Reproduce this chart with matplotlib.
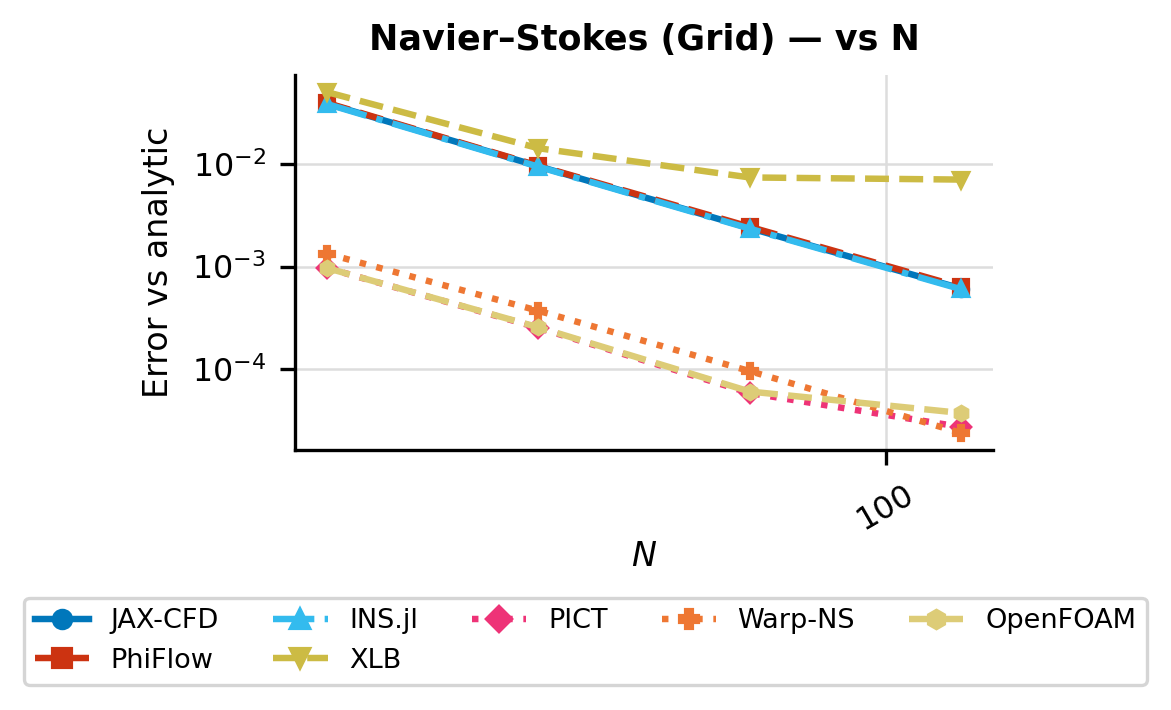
import numpy as np
import matplotlib.pyplot as plt
from matplotlib.ticker import NullLocator, FuncFormatter

plt.rcParams["font.family"] = "DejaVu Sans"

# grid resolution
N = [16, 32, 64, 128]

# error vs analytic solution, per solver
jax_cfd = [3.95e-2, 9.6e-3, 2.38e-3, 6.1e-4]
phiflow = [4.0e-2, 9.7e-3, 2.45e-3, 6.3e-4]
ins_jl = [3.9e-2, 9.5e-3, 2.35e-3, 6.0e-4]
xlb = [5.1e-2, 1.44e-2, 7.45e-3, 7.1e-3]
pict = [9.7e-4, 2.52e-4, 5.8e-5, 2.7e-5]
warp_ns = [1.34e-3, 3.7e-4, 9.5e-5, 2.36e-5]
openfoam = [9.7e-4, 2.55e-4, 6.0e-5, 3.7e-5]

solvers = ["JAX-CFD", "PhiFlow", "INS.jl", "XLB", "PICT", "Warp-NS", "OpenFOAM"]
errors = [jax_cfd, phiflow, ins_jl, xlb, pict, warp_ns, openfoam]
colors = ["#0077BB", "#CC3311", "#33BBEE", "#CCBB44", "#EE3377", "#EE7733", "#DDCC77"]
markers = ["o", "s", "^", "v", "D", "P", "h"]
styles = ["-", "--", "-.", "--", ":", ":", "--"]

fig = plt.figure(figsize=(1171 / 300, 710 / 300), dpi=300)
ax = fig.add_axes([295 / 1171, 1 - 450 / 710, (993 - 295) / 1171, (450 - 75) / 710])

for name, err, c, m, ls in zip(solvers, errors, colors, markers, styles):
    ax.plot(N, err, label=name, color=c, marker=m, linestyle=ls,
            linewidth=1.55, markersize=3.2)

ax.set_xscale("log")
ax.set_yscale("log")
ax.xaxis.set_minor_locator(NullLocator())
ax.yaxis.set_minor_locator(NullLocator())
ax.xaxis.set_major_formatter(FuncFormatter(lambda v, p: f"{v:g}"))
ax.grid(True, color="#dddddd", linewidth=0.6)
ax.set_axisbelow(True)
ax.spines["top"].set_visible(False)
ax.spines["right"].set_visible(False)
ax.tick_params(axis="both", labelsize=7.6)
plt.setp(ax.get_xticklabels(), rotation=30)

ax.set_xlabel("$N$", fontsize=8, labelpad=1)
ax.set_ylabel("Error vs analytic", fontsize=8)
ax.set_title("Navier\u2013Stokes (Grid) \u2014 vs N", fontsize=8.4, fontweight="bold")

leg = fig.legend(loc="upper center", bbox_to_anchor=(0.5, 1 - 584 / 710), ncol=5,
                 fontsize=6.5, markerscale=1.3, frameon=True, fancybox=True,
                 framealpha=1)
leg.get_frame().set_edgecolor("#d5d5d5")
leg.get_frame().set_linewidth(0.8)

fig.savefig("out.png", dpi=300)
